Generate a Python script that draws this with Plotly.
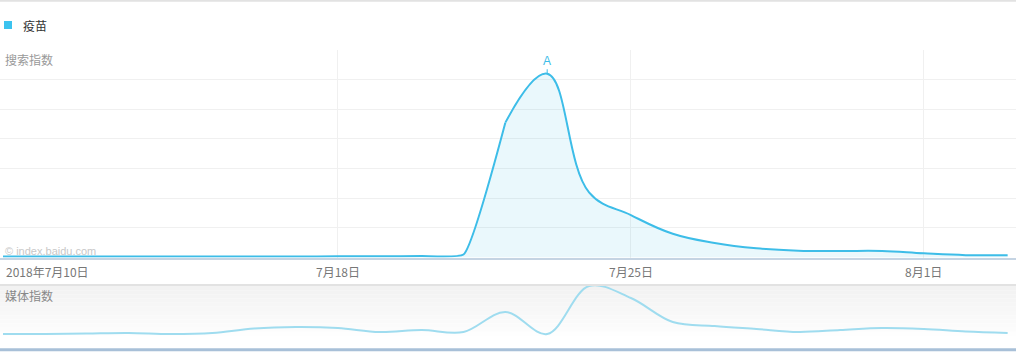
import plotly.graph_objects as go

W, H = 1016, 352

# ---- data ----
days = list(range(25))  # 2018-07-10 ... 2018-08-03, one point per day
search_index = [0.03, 0.03, 0.03, 0.03, 0.03, 0.03, 0.03, 0.03, 0.04, 0.04, 0.05,
                0.1, 4.55, 6.2, 2.2, 1.43, 0.8, 0.49, 0.31, 0.23, 0.22, 0.22,
                0.14, 0.08, 0.08]
media_index = [11, 11, 11.5, 12, 11, 12, 16.5, 18, 17, 13, 15, 13, 33, 11, 59, 47,
               23, 19, 16, 13, 15, 17, 16, 13.5, 12]
tick_days = [0, 8, 15, 22]
tick_labels = ["2018年7月10日", "7月18日", "7月25日", "8月1日"]
series_name = "疫苗"
peak_label = "A"

FONT = "Noto Sans CJK SC, Noto Sans, sans-serif"
LINE = "#3dbde8"


def py(p):  # pixel row -> paper y
    return 1 - p / H


def px(p):
    return p / W


x_range = [-3 / 41.86, 1013 / 41.86]
SPLIT = 12  # rise segment / peak+decay segment join (kink in the original curve)

fig = go.Figure()
for sl, sm in ((slice(0, SPLIT + 1), 0.4), (slice(SPLIT, None), 1.15)):
    fig.add_trace(go.Scatter(
        x=days[sl], y=search_index[sl], mode="lines",
        line=dict(color=LINE, width=2, shape="spline", smoothing=sm),
        fill="tozeroy", fillcolor="rgba(61,189,232,0.11)", xaxis="x", yaxis="y", hoverinfo="skip"))
fig.add_trace(go.Scatter(
    x=days, y=media_index, mode="lines", line=dict(color="#9fdcef", width=2, shape="spline", smoothing=1.0),
    xaxis="x2", yaxis="y2", hoverinfo="skip"))

shapes = []
# media panel gradient background
top, bot = 286, 336
n = 12
for i in range(n):
    t = i / (n - 1)
    c = int(242 + (254 - 242) * t)
    shapes.append(dict(type="rect", xref="paper", yref="paper", layer="below",
                       x0=0, x1=1, y0=py(top + (bot - top) * (i + 1) / n), y1=py(top + (bot - top) * i / n),
                       line=dict(width=0), fillcolor=f"rgb({c},{c},{c})"))
# borders
shapes.append(dict(type="line", xref="paper", yref="paper", x0=0, x1=1, y0=py(0.8), y1=py(0.8),
                   line=dict(color="#e2e2e2", width=2)))
shapes.append(dict(type="line", xref="paper", yref="paper", x0=0, x1=1, y0=py(285), y1=py(285),
                   line=dict(color="#e2e2e2", width=2)))
shapes.append(dict(type="line", xref="paper", yref="paper", x0=0, x1=1, y0=py(349.8), y1=py(349.8),
                   line=dict(color="#a8c0d8", width=3)))
# legend symbol
shapes.append(dict(type="rect", xref="paper", yref="paper", x0=px(4), x1=px(12), y0=py(29), y1=py(21),
                   line=dict(width=0), fillcolor="#3cc3ef"))

annotations = [
    dict(text=series_name, x=px(21), y=py(25), xref="paper", yref="paper", xanchor="left", yanchor="middle",
         showarrow=False, font=dict(family=FONT, size=12, color="#333333")),
    dict(text="搜索指数", x=px(3), y=py(59.5), xref="paper", yref="paper", xanchor="left", yanchor="middle",
         showarrow=False, font=dict(family=FONT, size=12, color="#999999")),
    dict(text="© index.baidu.com", x=px(3), y=py(250.5), xref="paper", yref="paper", xanchor="left",
         yanchor="middle", showarrow=False, font=dict(family="Liberation Sans, sans-serif", size=11, color="#c8c8c8")),
    dict(text="媒体指数", x=px(3), y=py(295), xref="paper", yref="paper", xanchor="left", yanchor="middle",
         showarrow=False, font=dict(family=FONT, size=12, color="#888888")),
]
for i, (d, lab) in enumerate(zip(tick_days, tick_labels)):
    annotations.append(dict(text=lab, x=d, y=py(271), xref="x", yref="paper",
                            xanchor="left" if i == 0 else "center", xshift=1 if i == 0 else 0,
                            yanchor="middle", showarrow=False,
                            font=dict(family=FONT, size=12, color="#777777")))
pk = max(range(len(search_index)), key=lambda i: search_index[i])
annotations.append(dict(text=peak_label, x=days[pk], y=search_index[pk], xref="x", yref="y",
                        showarrow=True, arrowhead=0, arrowwidth=1, arrowcolor=LINE, ax=0, ay=-13, standoff=0,
                        font=dict(family="Liberation Sans, sans-serif", size=12, color=LINE)))

fig.update_layout(
    width=W, height=H, margin=dict(l=0, r=0, t=0, b=0),
    paper_bgcolor="white", plot_bgcolor="rgba(0,0,0,0)", showlegend=False,
    shapes=shapes, annotations=annotations,
    xaxis=dict(domain=[0, 1], range=x_range, tickvals=tick_days[1:], showticklabels=False,
               showgrid=True, gridcolor="#f0f0f0", gridwidth=1, zeroline=False,
               showline=True, linecolor="#c5d4e3", linewidth=2, anchor="y", ticks=""),
    yaxis=dict(domain=[py(257.5), py(50)], range=[0, 7.001], dtick=1, showticklabels=False,
               showgrid=True, gridcolor="#f0f0f0", gridwidth=1, zeroline=False, showline=False),
    xaxis2=dict(domain=[0, 1], range=x_range, anchor="y2", showgrid=False, showticklabels=False,
                zeroline=False, showline=False),
    yaxis2=dict(domain=[py(345), py(285)], range=[0, 60], showgrid=False, showticklabels=False,
                zeroline=False, showline=False),
)

fig.write_html("out.html")
